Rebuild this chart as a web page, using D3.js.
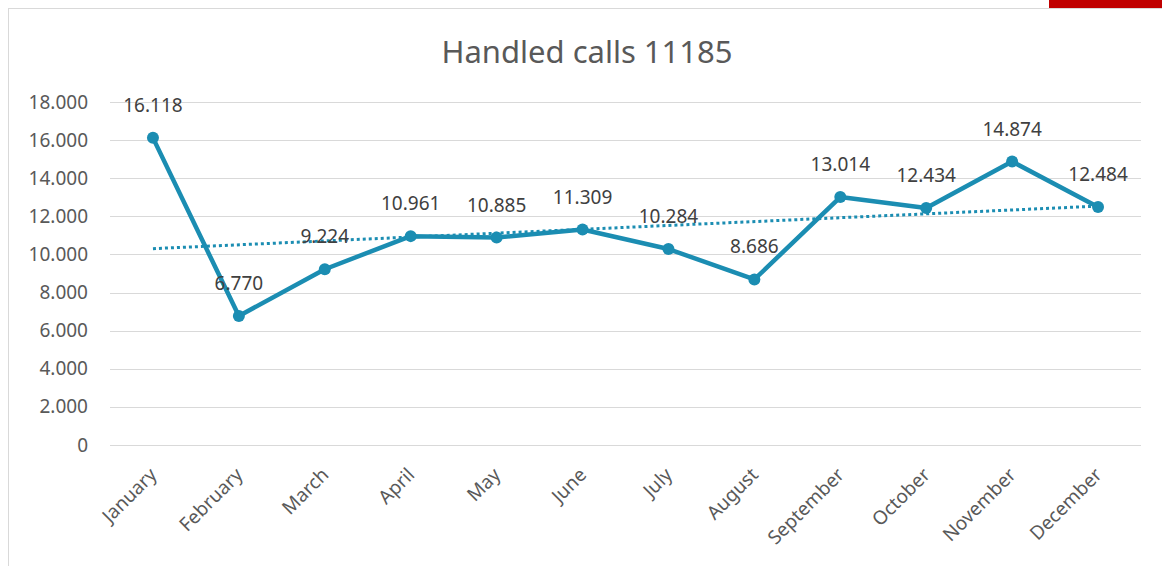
<!DOCTYPE html>
<html>
<head>
<meta charset="utf-8">
<script src="https://cdn.jsdelivr.net/npm/d3@7"></script>
<style>
  body { margin: 0; background: #fff; }
  text { font-family: "Noto Sans", "Open Sans", sans-serif; }
</style>
</head>
<body>
<div id="chart"></div>
<script>
const months = ["January", "February", "March", "April", "May", "June", "July",
  "August", "September", "October", "November", "December"];
const calls = [16118, 6770, 9224, 10961, 10885, 11309, 10284, 8686, 13014, 12434, 14874, 12484];
const y_ticks = [0, 2000, 4000, 6000, 8000, 10000, 12000, 14000, 16000, 18000];
const chart_title = "Handled calls 11185";

const W = 1162, H = 566;
const plot = { left: 110, right: 1141, top: 102, bottom: 445 };
const line_color = "#1b8db2";

// thousands with a dot, like the original sheet
const fmt = d => d3.format(",")(d).replace(/,/g, ".");

let svg = d3.select("#chart").append("svg")
  .attr("width", W)
  .attr("height", H);

// chart frame + the red tab at the top right
svg.append("rect")
  .attr("x", 8.5).attr("y", 8.5)
  .attr("width", W).attr("height", H)
  .attr("fill", "#fff")
  .attr("stroke", "#d9d9d9");
svg.append("rect")
  .attr("x", 1049).attr("y", 0)
  .attr("width", W - 1049).attr("height", 8)
  .attr("fill", "#c00000");

let x = d3.scaleBand().domain(months).range([plot.left, plot.right]);
let y = d3.scaleLinear().domain([0, 18000]).range([plot.bottom, plot.top]);
let cx = d => x(d) + x.bandwidth() / 2;

svg.append("text")
  .attr("x", 587)
  .attr("y", 63)
  .attr("text-anchor", "middle")
  .attr("font-size", 31)
  .attr("fill", "#595959")
  .text(chart_title);

// gridlines
svg.append("g")
  .selectAll("line")
  .data(y_ticks)
  .enter()
  .append("line")
  .attr("x1", plot.left).attr("x2", plot.right)
  .attr("y1", d => Math.round(y(d)) + 0.5)
  .attr("y2", d => Math.round(y(d)) + 0.5)
  .attr("stroke", "#d9d9d9")
  .attr("stroke-width", 1);

// y axis labels
let y_axis = svg.append("g")
  .attr("transform", "translate(" + (plot.left - 22) + ",0)")
  .call(d3.axisLeft(y).tickValues(y_ticks).tickFormat(fmt).tickSize(0).tickPadding(0));
y_axis.select(".domain").remove();
y_axis.selectAll("text")
  .attr("font-family", "Noto Sans")
  .attr("font-size", 19)
  .attr("fill", "#595959");

// x axis labels
let x_axis = svg.append("g")
  .attr("transform", "translate(0," + plot.bottom + ")")
  .call(d3.axisBottom(x).tickSize(0).tickPadding(0));
x_axis.select(".domain").remove();
x_axis.selectAll("text")
  .attr("font-family", "Noto Sans")
  .attr("font-size", 19)
  .attr("fill", "#595959")
  .attr("text-anchor", "end")
  .attr("dy", null)
  .attr("y", null)
  .attr("transform", "translate(5,31) rotate(-45)");

// linear trendline (least squares over month index)
let n = calls.length;
let xs = d3.range(n);
let mx = d3.mean(xs), my = d3.mean(calls);
let slope = d3.sum(xs, i => (i - mx) * (calls[i] - my)) / d3.sum(xs, i => (i - mx) * (i - mx));
let icpt = my - slope * mx;
svg.append("line")
  .attr("x1", cx(months[0]))
  .attr("x2", cx(months[n - 1]))
  .attr("y1", y(icpt))
  .attr("y2", y(icpt + slope * (n - 1)))
  .attr("stroke", line_color)
  .attr("stroke-width", 3)
  .attr("stroke-dasharray", "3,3");

// series line
let line = d3.line()
  .x((d, i) => cx(months[i]))
  .y(d => y(d));
svg.append("path")
  .datum(calls)
  .attr("d", line)
  .attr("fill", "none")
  .attr("stroke", line_color)
  .attr("stroke-width", 4.5)
  .attr("stroke-linejoin", "round");

svg.append("g")
  .selectAll("circle")
  .data(calls)
  .enter()
  .append("circle")
  .attr("cx", (d, i) => cx(months[i]))
  .attr("cy", d => y(d))
  .attr("r", 6)
  .attr("fill", line_color);

// data labels
svg.append("g")
  .selectAll("text")
  .data(calls)
  .enter()
  .append("text")
  .attr("x", (d, i) => cx(months[i]))
  .attr("y", d => y(d) - 26)
  .attr("text-anchor", "middle")
  .attr("font-size", 19)
  .attr("fill", "#404040")
  .text(d => fmt(d));
</script>
</body>
</html>
